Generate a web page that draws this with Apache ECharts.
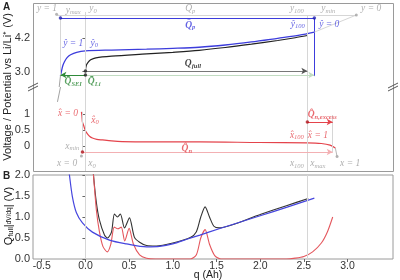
<!DOCTYPE html>
<html><head><meta charset="utf-8">
<script src="https://cdn.jsdelivr.net/npm/echarts@6/dist/echarts.min.js"></script>
<style>html,body{margin:0;padding:0;background:#fff}#c{width:400px;height:280px}</style>
</head><body><div id="c"></div>
<script>
// ---------- DATA ----------
// Panel A, upper: cathode (blue) and full cell (black) voltage vs q (Ah)
const qCathode = [-0.286,-0.275,-0.26,-0.24,-0.21,-0.17,-0.1,0.0,0.3,0.7,1.0,1.3,1.6,1.9,2.2,2.45,2.62];
const vCathode = [2.84,3.0,3.2,3.35,3.5,3.6,3.69,3.74,3.77,3.80,3.83,3.87,3.95,4.06,4.19,4.30,4.41];
const qFull = [0,0.01,0.03,0.06,0.12,0.3,0.7,1.0,1.3,1.6,1.9,2.2,2.4,2.54];
const vFull = [3.02,3.22,3.33,3.42,3.49,3.55,3.63,3.69,3.76,3.86,3.98,4.11,4.21,4.29];
// Panel A, lower: anode (red)
const qAnode = [-0.046,-0.04,-0.034,-0.02,-0.011,0.0,0.023,0.05,0.08,0.13,0.195,0.3,0.42,0.73,1.31,1.99,2.54,2.7,2.8,2.86];
const vAnode = [1.07,0.95,0.75,0.64,0.56,0.48,0.38,0.30,0.25,0.21,0.19,0.16,0.14,0.13,0.13,0.11,0.10,0.08,0.03,-0.06];
// Panel B: Q_full |dV/dq|
const qDvBlue = [-0.2,-0.183,-0.149,-0.103,-0.034,0.08,0.275,0.47,0.70,0.85,1.0,1.16,1.31,1.53,2.0,2.3,2.62];
const vDvBlue = [2.3,2.0,1.48,1.10,0.86,0.64,0.45,0.36,0.29,0.30,0.36,0.47,0.57,0.72,1.03,1.23,1.45];
const qDvBlack = [0.08,0.092,0.126,0.16,0.218,0.252,0.298,0.332,0.367,0.40,0.447,0.504,0.56,0.62,0.70,0.81,1.0,1.2,1.27,1.32,1.37,1.42,1.47,1.53,2.0,2.3,2.55];
const vDvBlack = [2.4,2.0,1.33,0.93,0.57,0.50,0.64,1.07,1.00,1.07,0.74,0.98,0.52,0.40,0.32,0.31,0.38,0.51,0.65,1.0,1.24,1.0,0.78,0.74,1.06,1.27,1.44];
const qDvRed = [0.08,0.092,0.126,0.16,0.2,0.25,0.29,0.33,0.37,0.41,0.45,0.50,0.55,0.62,0.7,0.8,1.2,1.27,1.32,1.37,1.42,1.48,1.55,2.3,2.4,2.5,2.6,2.7,2.77,2.83];
const vDvRed = [2.4,2.0,1.15,0.65,0.30,0.17,0.35,0.76,0.72,0.76,0.43,0.73,0.35,0.10,0.02,0.0,0.0,0.1,0.5,0.7,0.35,0.08,0.0,0.0,0.02,0.06,0.17,0.38,0.65,1.0];
// Tick labels
const xTicks = [-0.5,0,0.5,1.0,1.5,2.0,2.5,3.0];
const yTicksUpper = [3.0,4.2];
const yTicksLower = [0,0.5,1];
// Annotation geometry (data coordinates)
const segQpGray = [[-0.33,5.02],[3.10,5.02]];
const segQpBlue = [[-0.286,4.91],[2.62,4.91]];
const segY0Slant = [[2.62,4.41],[3.10,5.02]];
const segQFull = [[0,3.02],[2.54,3.02]];
const segQLi = [[0,2.88],[2.62,2.88]];
const segQSei = [[0,2.88],[-0.286,2.88]];
const vYmax = [[-0.286,5.02],[-0.286,2.84]];
const vQ0U = [[0,5.13],[0,2.45]];
const vQ100U = [[2.54,5.02],[2.54,2.45]];
const vYmin = [[2.62,4.91],[2.62,2.84]];
const grayCurveU = [[-0.286,2.84],[-0.30,2.45]];
const grayCurveL = [[-0.285,1.845],[-0.32,1.38]];
const vQ0L = [[0,1.845],[0,-0.78]];
const vQ100L = [[2.54,1.845],[2.54,-0.78]];
const vXmin = [[-0.034,1.07],[-0.034,-0.186]];
const vXmax = [[2.83,0.97],[2.83,-0.186]];
const segQn = [[-0.034,-0.186],[2.83,-0.186]];
const segQnEx = [[2.54,0.75],[2.83,0.75]];
const grayEndL = [[2.86,-0.06],[2.88,-0.33]];
const vQ0B = [[0,0],[0,2]];
const vQ100B = [[2.54,0],[2.54,2]];
const dotsBlueU = [[-0.286,4.91],[2.62,4.91]];
const dotsGrayU = [[-0.33,5.05],[3.10,5.02]];
const dotsDarkU = [[0,3.02],[0,2.88]];
const dotsRedL = [[-0.034,-0.186],[2.54,0.75]];
const dotsGrayL = [[-0.046,-0.31],[2.88,-0.33]];
// Annotation texts [q, V, text]
const txtGrayU = [[-0.44,5.24,'y = 1'],[-0.14,5.20,'y{s|max}'],[0.087,5.24,'y{s|0}'],[1.20,5.24,'Q{s|p}'],[2.42,5.24,'y{s|100}'],[2.78,5.24,'y{s|min}'],[3.27,5.24,'y = 0']];
const txtBlueU = [[-0.14,4.02,'ŷ = 1'],[0.10,4.02,'ŷ{s|0}'],[2.43,4.70,'ŷ{s|100}'],[2.79,4.70,'ŷ = 0']];
const txtBlueBoldU = [[1.20,4.66,'Q\u0302{s|p}']];
const txtBlackBoldU = [[1.23,3.27,'Q{s|full}']];
const txtGreenBoldU = [[-0.14,2.63,'Q\u0304{s|SEI}'],[0.10,2.63,'Q\u0304{s|Li}']];
const txtRedL = [[-0.20,1.03,'x\u0302 = 0'],[0.11,0.81,'x\u0302{s|0}'],[2.42,0.345,'x\u0302{s|100}'],[2.66,0.345,'x\u0302 = 1']];
const txtRedBoldL = [[1.16,-0.09,'Q\u0302{s|n}'],[2.71,0.97,'Q\u0302{s|n,excess}']];
const txtGrayL = [[-0.15,0.0,'x{s|min}'],[-0.21,-0.56,'x = 0'],[0.075,-0.56,'x{s|0}'],[2.42,-0.56,'x{s|100}'],[2.66,-0.56,'x{s|max}'],[3.03,-0.56,'x = 1']];

// ---------- STYLE / BUILD ----------
const BLUE='#3c3cdc', RED='#e4434b', GREEN='#2f8a3a', BLACK='#222', GRAY='#a3a3a3', LIGHT='#d6d6d6', LRED='#f3b0b3', LGREEN='#c2dcc2';
const SERIF='Liberation Serif', SANS='Liberation Sans';
const zip=(a,b)=>a.map((x,i)=>[x,b[i]]);
function curve(gi, qs, vs, color, w, z, sm){
  return {type:'line', xAxisIndex:gi, yAxisIndex:gi, data:zip(qs,vs), symbol:'none', smooth:sm===undefined?0.3:sm,
    lineStyle:{color, width:w}, silent:true, z:z||3, clip:true};
}
function seg(gi, pts, color, w, arrowEnd){
  return {type:'line', xAxisIndex:gi, yAxisIndex:gi, data:[], silent:true, z:2,
    markLine:{silent:true, animation:false, symbol:['none', arrowEnd?'arrow':'none'], symbolSize:[5,6], label:{show:false},
      lineStyle:{color, width:w, type:'solid'},
      data:[[{coord:pts[0]},{coord:pts[1]}]]}};
}
function dots(gi, pts, color, size){
  return {type:'scatter', xAxisIndex:gi, yAxisIndex:gi, data:pts, symbolSize:size||3.5, itemStyle:{color}, silent:true, z:5};
}
function texts(gi, arr, color, bold){
  return {type:'scatter', xAxisIndex:gi, yAxisIndex:gi, silent:true, z:6, symbolSize:1, itemStyle:{color:'transparent'},
    data:arr.map(t=>({value:[t[0],t[1]], label:{formatter:t[2]}})),
    label:{show:true, position:'inside', fontFamily:SERIF, fontStyle:'italic', fontWeight:bold?'bold':'normal', fontSize:9.5, color,
      rich:{s:{fontFamily:SERIF, fontStyle:'italic', fontWeight:bold?'bold':'normal', fontSize:6.5, color, padding:[4,0,0,0]}}}};
}
const XMIN=-0.6, XMAX=3.52;
const L=33, W=360;
const grids=[{left:L, top:3, width:W, height:84, outerBoundsMode:'none', containLabel:false},
  {left:L, top:87, width:W, height:84, outerBoundsMode:'none', containLabel:false},
  {left:L, top:175, width:W, height:84, show:true, borderColor:'#9a9a9a', borderWidth:1, outerBoundsMode:'none', containLabel:false}];
const tickLbl={fontSize:11, color:'#333', fontFamily:SANS, margin:3};
const xAxes=[0,1,2].map(i=>({gridIndex:i, type:'value', min:XMIN, max:XMAX, show:i===2,
  axisLine:{show:false}, splitLine:{show:false},
  axisTick:{show:true, customValues:xTicks, length:3, lineStyle:{color:'#666'}},
  axisLabel:Object.assign({customValues:xTicks, formatter:v=>v.toFixed(1)}, tickLbl, {margin:2, fontSize:10.5})}));
const yAxes=[
  {gridIndex:0, type:'value', min:2.45, max:5.45, axisLine:{show:false}, splitLine:{show:false},
    axisTick:{show:true, customValues:yTicksUpper, length:3, lineStyle:{color:'#666'}},
    axisLabel:Object.assign({customValues:yTicksUpper, formatter:v=>v.toFixed(1)}, tickLbl)},
  {gridIndex:1, type:'value', min:-0.78, max:1.845, axisLine:{show:false}, splitLine:{show:false},
    axisTick:{show:true, customValues:yTicksLower, length:3, lineStyle:{color:'#666'}},
    axisLabel:Object.assign({customValues:yTicksLower, formatter:v=>String(v)}, tickLbl)},
  {gridIndex:2, type:'value', min:0, max:2, interval:0.5, axisLine:{show:false}, splitLine:{show:false},
    axisTick:{show:true, length:3, lineStyle:{color:'#666'}},
    axisLabel:Object.assign({formatter:v=>v.toFixed(1)}, tickLbl)}
];
const series=[
  // vertical guides
  seg(0,vQ0U,LIGHT,1), seg(0,vQ100U,LIGHT,1), seg(0,vYmax,LIGHT,1), seg(0,vYmin,BLUE,1),
  seg(1,vQ0L,LIGHT,1), seg(1,vQ100L,LIGHT,1), seg(1,vXmin,LIGHT,1), seg(1,vXmax,LIGHT,1),
  seg(2,vQ0B,LIGHT,1), seg(2,vQ100B,LIGHT,1),
  // horizontals
  seg(0,segQpGray,LIGHT,1), seg(0,segQpBlue,BLUE,1), seg(0,segY0Slant,LIGHT,1),
  seg(0,segQFull,'#555',0.8,true), seg(0,segQLi,LGREEN,1,true), seg(0,segQSei,GREEN,1,true),
  seg(0,grayCurveU,GRAY,1), seg(1,grayCurveL,GRAY,1),
  seg(1,segQn,LRED,1,true), seg(1,segQnEx,RED,1,true), seg(1,grayEndL,GRAY,0.8),
  // curves
  curve(0,qCathode,vCathode,BLUE,1.3,4), curve(0,qFull,vFull,BLACK,1.2,4),
  curve(1,qAnode,vAnode,RED,1.2,4),
  curve(2,qDvBlack,vDvBlack,'#333',1.1,3,0.25), curve(2,qDvRed,vDvRed,'#e4575d',1.1,3,0.25), curve(2,qDvBlue,vDvBlue,'#4646de',1.2,4,0.3),
  // dots
  dots(0,dotsBlueU,'#2020b0'), dots(0,dotsGrayU,GRAY,3), dots(0,dotsDarkU,'#222',3.5),
  dots(1,dotsRedL,'#b0141c'), dots(1,dotsGrayL,GRAY,3),
  // texts
  texts(0,txtGrayU,'#9a9a9a',false), texts(0,txtBlueU,BLUE,false), texts(0,txtBlueBoldU,BLUE,true),
  texts(0,txtBlackBoldU,'#111',true), texts(0,txtGreenBoldU,GREEN,true),
  texts(1,txtRedL,RED,false), texts(1,txtRedBoldL,RED,true), texts(1,txtGrayL,'#9a9a9a',false)
];
const brk=(x,y)=>({type:'group', children:[
  {type:'line', shape:{x1:x-5,y1:y+2,x2:x+5,y2:y-3}, style:{stroke:'#555', lineWidth:1}},
  {type:'line', shape:{x1:x-5,y1:y+5,x2:x+5,y2:y}, style:{stroke:'#555', lineWidth:1}}]});
const graphic=[
  {type:'rect', shape:{x:L+0.5, y:3.5, width:W, height:168}, style:{fill:'none', stroke:'#9a9a9a', lineWidth:1}, silent:true},
  brk(L,86), brk(L+W,86),
  {type:'text', x:3, y:2, style:{text:'A', font:'bold 10px Liberation Sans', fill:'#222'}},
  {type:'text', x:3, y:171, style:{text:'B', font:'bold 10px Liberation Sans', fill:'#222'}},
  {type:'text', x:2, y:87, rotation:Math.PI/2, style:{text:'Voltage / Potential vs Li/Li\u207A (V)', font:'11px Liberation Sans', fill:'#222', textAlign:'center', textVerticalAlign:'top'}},
  {type:'text', x:3, y:216, rotation:Math.PI/2, style:{text:'Q{s|full}|{f|dV/dq}| (V)', fill:'#111', fontSize:11, fontFamily:SANS, textAlign:'center', textVerticalAlign:'top',
    rich:{s:{fontSize:7.5, fill:'#111', fontFamily:SANS, padding:[4,0,0,0]}, f:{fontSize:6.5, fill:'#111', fontFamily:SANS}}}},
  {type:'text', x:208, y:270, style:{text:'q (Ah)', font:'10.5px Liberation Sans', fill:'#222', textAlign:'center', textVerticalAlign:'top'}}
];
const chart=echarts.init(document.getElementById('c'));
chart.setOption({animation:false, backgroundColor:'#fff', grid:grids, xAxis:xAxes, yAxis:yAxes, series, graphic});
</script></body></html>
